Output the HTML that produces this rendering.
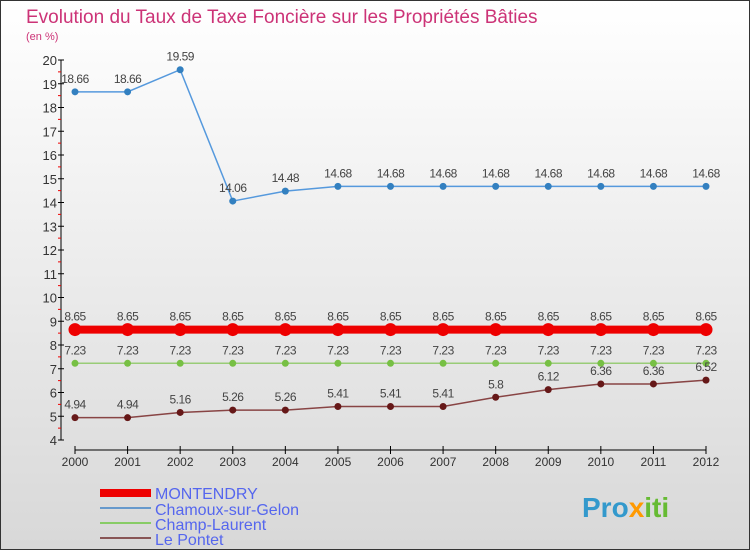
<!DOCTYPE html>
<html><head><meta charset="utf-8"><style>
body{margin:0;}
#c{width:750px;height:550px;position:relative;overflow:hidden;box-sizing:border-box;border:1px solid #333;background:linear-gradient(#ffffff,#d8d8d8);font-family:"Liberation Sans",sans-serif;}
</style></head><body>
<div id="c">
<svg id="s" width="750" height="550" style="position:absolute;left:-1px;top:-1px">
<text x="26" y="23" font-size="19" fill="#cc3377">Evolution du Taux de Taxe Foncière sur les Propriétés Bâties</text>
<text x="26" y="40" font-size="11" fill="#cc3377">(en %)</text>
<g id="ax"></g><g id="ser"></g>
<g>
<rect x="100" y="489" width="51" height="8" fill="#ee0000"/>
<text x="155" y="499" font-size="16" fill="#5566ee">MONTENDRY</text>
<line x1="100" y1="508" x2="151" y2="508" stroke="#6699cc" stroke-width="2"/>
<text x="155" y="515" font-size="16" fill="#5566ee">Chamoux-sur-Gelon</text>
<line x1="100" y1="523" x2="151" y2="523" stroke="#88cc66" stroke-width="2"/>
<text x="155" y="530" font-size="16" fill="#5566ee">Champ-Laurent</text>
<line x1="100" y1="538" x2="151" y2="538" stroke="#885555" stroke-width="2"/>
<text x="155" y="545" font-size="16" fill="#5566ee">Le Pontet</text>
</g>
<text x="582" y="517" font-size="28" font-weight="bold" fill="#3399cc">Pro<tspan fill="#ff9900">x</tspan><tspan fill="#66bb33">iti</tspan></text>
</svg>
</div>
<script>
const years=[2000,2001,2002,2003,2004,2005,2006,2007,2008,2009,2010,2011,2012];
const montendry=[8.65,8.65,8.65,8.65,8.65,8.65,8.65,8.65,8.65,8.65,8.65,8.65,8.65];
const chamoux=[18.66,18.66,19.59,14.06,14.48,14.68,14.68,14.68,14.68,14.68,14.68,14.68,14.68];
const champLaurent=[7.23,7.23,7.23,7.23,7.23,7.23,7.23,7.23,7.23,7.23,7.23,7.23,7.23];
const lePontet=[4.94,4.94,5.16,5.26,5.26,5.41,5.41,5.41,5.8,6.12,6.36,6.36,6.52];
const yTicks=[4,5,6,7,8,9,10,11,12,13,14,15,16,17,18,19,20];
const NS="http://www.w3.org/2000/svg";
const xS=i=>75+i*(706-75)/(years.length-1);
const yS=v=>440-(v-4)*23.75;
function mk(p,t,a){const e=document.createElementNS(NS,t);for(const k in a)e.setAttribute(k,a[k]);p.appendChild(e);return e;}
const ax=document.getElementById('ax'),ser=document.getElementById('ser');
mk(ax,'line',{x1:61,y1:yS(20),x2:61,y2:yS(4),stroke:'#000'});
mk(ax,'line',{x1:75,y1:450,x2:706,y2:450,stroke:'#000'});
yTicks.forEach(v=>{
 mk(ax,'line',{x1:58,y1:yS(v),x2:64,y2:yS(v),stroke:'#000'});
 if(v<20)mk(ax,'line',{x1:58,y1:yS(v+0.5),x2:61,y2:yS(v+0.5),stroke:'#e00'});
 const t=mk(ax,'text',{x:57,y:yS(v)+5,'font-size':13,'text-anchor':'end',fill:'#333'});t.textContent=v;
 
 
});
years.forEach((y,i)=>{
 mk(ax,'line',{x1:xS(i),y1:446,x2:xS(i),y2:454,stroke:'#000'});
 const t=mk(ax,'text',{x:xS(i),y:466,'font-size':12,'text-anchor':'middle',fill:'#333'});t.textContent=y;
 
 
});
function series(vals,color,lw,r,dot,name){
 const g=mk(ser,'g',{});
 
 
 mk(g,'polyline',{points:vals.map((v,i)=>xS(i)+','+yS(v)).join(' '),fill:'none',stroke:color,'stroke-width':lw});
 vals.forEach((v,i)=>{
  const c=mk(g,'circle',{cx:xS(i),cy:yS(v),r:r,fill:dot});
  
  
  const t=mk(g,'text',{x:xS(i),y:yS(v)-9,'font-size':12,'text-anchor':'middle',fill:'#444','letter-spacing':'-0.5'});t.textContent=v;
  
  
 });
}
series(chamoux,'#5599dd',1.5,3.5,'#3380c0','chamoux');
series(champLaurent,'#99cc77',1.5,3.5,'#77c044','champ-laurent');
series(lePontet,'#884444',1.5,3.5,'#661818','le-pontet');
series(montendry,'#ee0000',8,6.5,'#ee0000','montendry');
</script>
</body></html>
